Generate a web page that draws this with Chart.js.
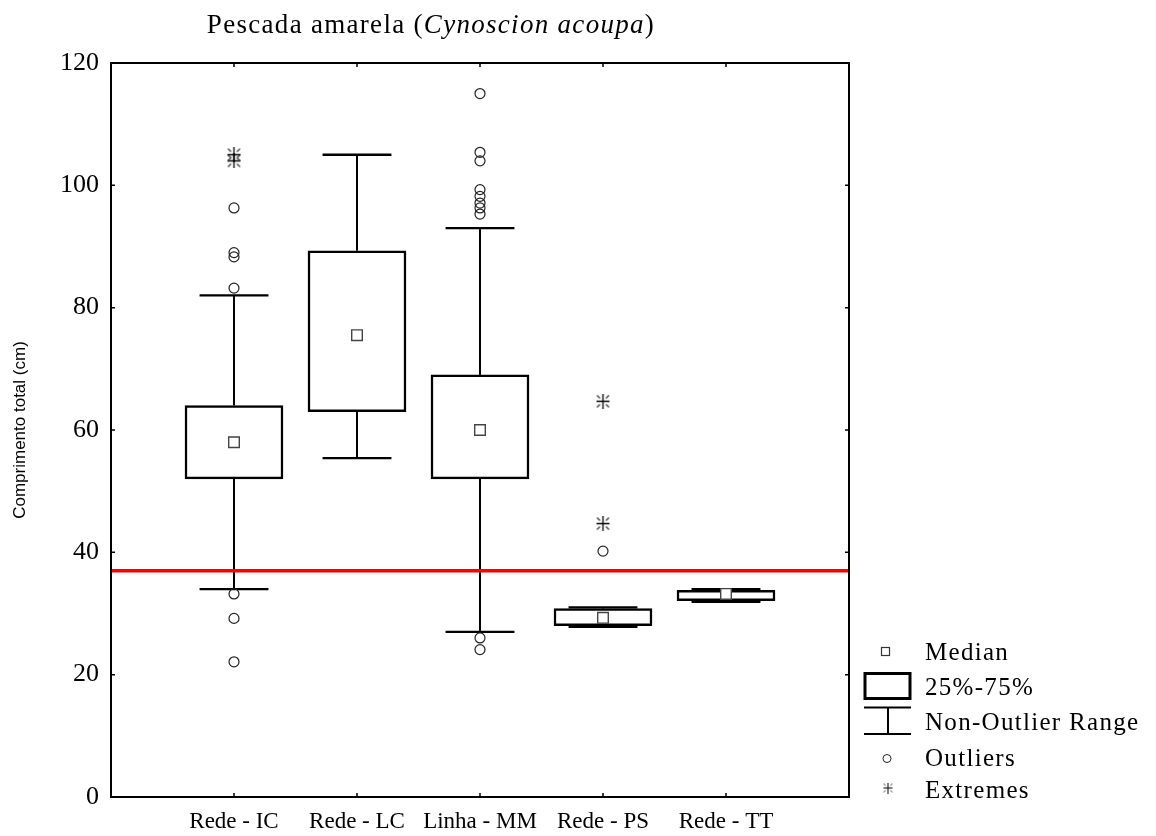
<!DOCTYPE html>
<html>
<head>
<meta charset="utf-8">
<title>Pescada amarela</title>
<script src="https://cdn.jsdelivr.net/npm/chart.js@4.4.1/dist/chart.umd.min.js"></script>
<style>
  html, body { margin: 0; padding: 0; background: #fff; }
  #wrap { width: 1156px; height: 836px; }
</style>
</head>
<body>
<div id="wrap"><canvas id="chart" width="1156" height="836"></canvas></div>
<script>
// Total length (cm) by fishing gear
const categories  = ['Rede - IC', 'Rede - LC', 'Linha - MM', 'Rede - PS', 'Rede - TT'];
const whiskerLow  = [34.0, 55.4, 27.0, 27.8, 31.9];
const quartile1   = [52.0, 63.0, 52.0, 28.0, 32.1];
const medians     = [58.0, 75.5, 60.0, 29.3, 33.2];
const quartile3   = [64.0, 89.3, 69.0, 30.8, 33.8];
const whiskerHigh = [82.0, 105.0, 93.0, 31.0, 34.0];
const outliers = [
  [83.2, 88.3, 89.0, 96.3, 33.2, 29.2, 22.1],
  [],
  [95.3, 96.3, 97.1, 98.2, 99.3, 104.0, 105.4, 115.0, 26.0, 24.1],
  [40.2],
  []
];
const extremes = [
  [104.0, 105.0],
  [],
  [],
  [44.7, 64.7],
  []
];
const referenceLength = 37;   // red reference line (cm)
const yTicks = [0, 20, 40, 60, 80, 100, 120];
const legendLabels = ['Median', '25%-75%', 'Non-Outlier Range', 'Outliers', 'Extremes'];

const SERIF = '"Liberation Serif", "Times New Roman", serif';
const SANS = '"Liberation Sans", Arial, sans-serif';

// Asterisk marker: plus sign with short diagonal dashes
function asteriskMarker(size, lw) {
  const c = document.createElement('canvas');
  c.width = size; c.height = size;
  const g = c.getContext('2d');
  const m = size / 2;
  g.strokeStyle = '#000';
  g.lineWidth = lw;
  g.beginPath();
  g.moveTo(m, 0); g.lineTo(m, size);
  g.moveTo(1, m); g.lineTo(size - 1, m);
  g.stroke();
  g.strokeStyle = '#333';
  g.lineWidth = lw * 0.9;
  const a = size * 0.2, b = size * 0.4;
  [[1, 1], [1, -1], [-1, 1], [-1, -1]].forEach(([sx, sy]) => {
    g.beginPath();
    g.moveTo(m + sx * a, m + sy * a);
    g.lineTo(m + sx * b, m + sy * b);
    g.stroke();
  });
  return c;
}
const extremeMarker = asteriskMarker(15, 1.3);
const extremeLegendMarker = asteriskMarker(11, 1);

const capHalfWidth = 0.28;   // whisker cap half width, in category units

const whiskerPlugin = {
  id: 'whiskers',
  beforeDatasetsDraw(chart) {
    const { ctx, scales: { x, y } } = chart;
    ctx.save();
    ctx.strokeStyle = '#000';
    categories.forEach((_, i) => {
      const cx = x.getPixelForValue(i + 1);
      const l = x.getPixelForValue(i + 1 - capHalfWidth);
      const r = x.getPixelForValue(i + 1 + capHalfWidth);
      const yHi = y.getPixelForValue(whiskerHigh[i]);
      const yLo = y.getPixelForValue(whiskerLow[i]);
      ctx.lineWidth = 2;
      ctx.beginPath();
      ctx.moveTo(cx, yHi); ctx.lineTo(cx, y.getPixelForValue(quartile3[i]));
      ctx.moveTo(cx, y.getPixelForValue(quartile1[i])); ctx.lineTo(cx, yLo);
      ctx.stroke();
      ctx.lineWidth = 2.3;
      ctx.beginPath();
      ctx.moveTo(l, yHi); ctx.lineTo(r, yHi);
      ctx.moveTo(l, yLo); ctx.lineTo(r, yLo);
      ctx.stroke();
    });
    ctx.restore();
  }
};

const framePlugin = {
  id: 'frameTitleLegend',
  afterDraw(chart) {
    const { ctx, chartArea: a, scales: { x, y } } = chart;
    ctx.save();
    // plot frame
    ctx.strokeStyle = '#000';
    ctx.lineWidth = 2;
    ctx.strokeRect(a.left, a.top, a.right - a.left, a.bottom - a.top);
    // inward tick marks
    ctx.lineWidth = 1.5;
    ctx.beginPath();
    yTicks.forEach(v => {
      const py = y.getPixelForValue(v);
      ctx.moveTo(a.left, py); ctx.lineTo(a.left + 4, py);
      ctx.moveTo(a.right, py); ctx.lineTo(a.right - 4, py);
    });
    categories.forEach((_, i) => {
      const px = x.getPixelForValue(i + 1);
      ctx.moveTo(px, a.top); ctx.lineTo(px, a.top + 4);
      ctx.moveTo(px, a.bottom); ctx.lineTo(px, a.bottom - 4);
    });
    ctx.stroke();

    // title with italic species name
    const parts = [['Pescada amarela (', 'normal'], ['Cynoscion acoupa', 'italic'], [')', 'normal']];
    const fontFor = st => `${st} 27px ${SERIF}`;
    ctx.letterSpacing = '1.3px';
    let total = 0;
    parts.forEach(([t, st]) => { ctx.font = fontFor(st); total += ctx.measureText(t).width; });
    let tx = 431 - total / 2;
    ctx.fillStyle = '#000';
    ctx.textBaseline = 'alphabetic';
    ctx.textAlign = 'left';
    parts.forEach(([t, st]) => {
      ctx.font = fontFor(st);
      ctx.fillText(t, tx, 33);
      tx += ctx.measureText(t).width;
    });

    // legend
    const lx = a.right;
    ctx.lineWidth = 1.2;
    ctx.strokeStyle = '#333';
    ctx.strokeRect(lx + 32.5, 647.5, 8, 8);
    ctx.strokeStyle = '#000';
    ctx.lineWidth = 3;
    ctx.strokeRect(lx + 16, 673.5, 45, 25);
    ctx.lineWidth = 2;
    ctx.beginPath();
    ctx.moveTo(lx + 15, 707.5); ctx.lineTo(lx + 62, 707.5);
    ctx.moveTo(lx + 15, 734); ctx.lineTo(lx + 62, 734);
    ctx.moveTo(lx + 39, 707.5); ctx.lineTo(lx + 39, 734);
    ctx.stroke();
    ctx.lineWidth = 1;
    ctx.strokeStyle = '#222';
    ctx.beginPath();
    ctx.arc(lx + 38, 758.5, 4, 0, Math.PI * 2);
    ctx.stroke();
    ctx.drawImage(extremeLegendMarker, lx + 39 - 5.5, 788 - 5.5);
    ctx.fillStyle = '#000';
    ctx.font = `25px ${SERIF}`;
    ctx.letterSpacing = '1.3px';
    const baselines = [660, 695, 730, 766, 798];
    legendLabels.forEach((t, i) => ctx.fillText(t, lx + 76, baselines[i]));
    ctx.restore();
  }
};

const boxData = categories.map((_, i) => ({ x: i + 1, y: [quartile1[i], quartile3[i]] }));
const medianData = medians.map((m, i) => ({ x: i + 1, y: m }));
const outlierData = outliers.flatMap((vals, i) => vals.map(v => ({ x: i + 1, y: v })));
const extremeData = extremes.flatMap((vals, i) => vals.map(v => ({ x: i + 1, y: v })));

new Chart(document.getElementById('chart'), {
  type: 'bar',
  data: {
    datasets: [
      {
        type: 'line',
        label: 'Reference',
        data: [{ x: 0, y: referenceLength }, { x: 6, y: referenceLength }],
        borderColor: '#ff0000',
        borderWidth: 3.5,
        pointRadius: 0,
        order: 0
      },
      {
        type: 'scatter',
        label: 'Median',
        data: medianData,
        pointStyle: 'rect',
        pointRadius: 7.5,
        borderColor: '#444',
        borderWidth: 1.4,
        backgroundColor: '#fff',
        order: 1
      },
      {
        type: 'scatter',
        label: 'Outliers',
        data: outlierData,
        pointStyle: 'circle',
        pointRadius: 5,
        borderColor: '#222',
        borderWidth: 1.2,
        backgroundColor: 'rgba(0,0,0,0)',
        order: 2
      },
      {
        type: 'scatter',
        label: 'Extremes',
        data: extremeData,
        pointStyle: extremeMarker,
        pointRadius: 8,
        order: 3
      },
      {
        type: 'bar',
        label: '25%-75%',
        data: boxData,
        barThickness: 98,
        backgroundColor: '#fff',
        borderColor: '#000',
        borderWidth: 2.5,
        borderSkipped: false,
        order: 4
      }
    ]
  },
  options: {
    responsive: false,
    animation: false,
    devicePixelRatio: 1,
    events: [],
    layout: { padding: { top: 63, right: 307, left: 0, bottom: 0 } },
    plugins: {
      legend: { display: false },
      tooltip: { enabled: false },
      title: { display: false }
    },
    scales: {
      x: {
        type: 'linear',
        min: 0,
        max: 6,
        offset: false,
        grid: { display: false, drawTicks: false, offset: false },
        border: { display: false },
        afterBuildTicks: s => { s.ticks = categories.map((_, i) => ({ value: i + 1 })); },
        ticks: {
          autoSkip: false,
          maxRotation: 0,
          minRotation: 0,
          padding: 11,
          color: '#000',
          font: { family: SERIF, size: 23 },
          callback: v => categories[v - 1] ?? ''
        },
        afterFit: s => { s.height = 39; }
      },
      y: {
        type: 'linear',
        min: 0,
        max: 120,
        grid: { display: false, drawTicks: false },
        border: { display: false },
        afterBuildTicks: s => { s.ticks = yTicks.map(v => ({ value: v })); },
        ticks: {
          padding: 12,
          color: '#000',
          font: { family: SERIF, size: 26 }
        },
        title: {
          display: true,
          text: 'Comprimento total (cm)',
          color: '#000',
          font: { family: SANS, size: 17 },
          padding: { top: 10, bottom: 0 }
        },
        afterFit: s => { s.width = 111; }
      }
    }
  },
  plugins: [whiskerPlugin, framePlugin]
});
</script>
</body>
</html>
